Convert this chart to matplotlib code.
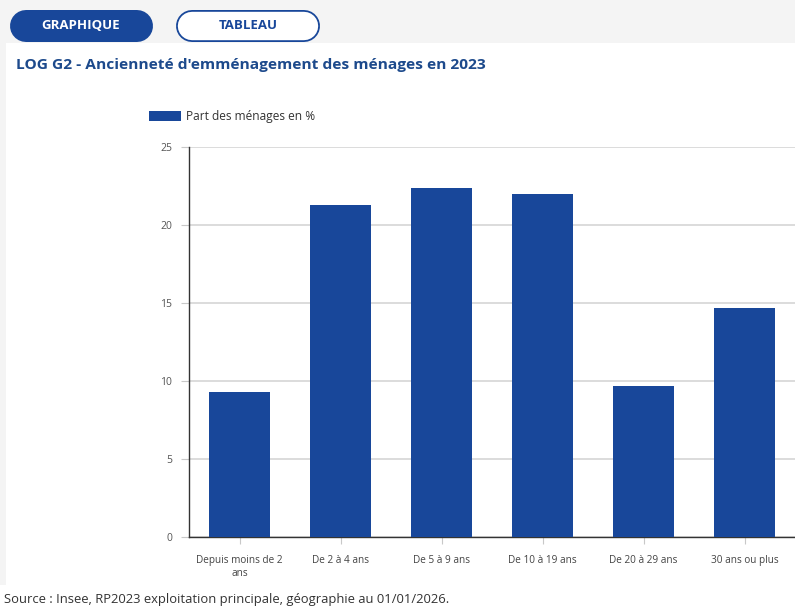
import matplotlib.pyplot as plt
from matplotlib.patches import Rectangle

categories = ['Depuis moins de 2\nans', 'De 2 à 4 ans', 'De 5 à 9 ans',
              'De 10 à 19 ans', 'De 20 à 29 ans', '30 ans ou plus']
values = [9.3, 21.3, 22.4, 22.0, 9.7, 14.7]
yticks = [0, 5, 10, 15, 20, 25]

blue = '#18479a'
dark_blue = '#1d4a8c'
W, H = 795, 606

plt.rcParams['font.family'] = ['Open Sans', 'DejaVu Sans']

fig = plt.figure(figsize=(W / 100, H / 100), dpi=100, facecolor='white')


def fx(x):
    return x / W


def fy(y):
    return 1 - y / H


# page decoration drawn in pixel coordinates on a background axes
bg = fig.add_axes([0, 0, 1, 1], zorder=-1)
bg.set_xlim(0, W)
bg.set_ylim(H, 0)
bg.axis('off')
bg.add_patch(Rectangle((0, 0), W, 43, facecolor='#f4f4f4', edgecolor='none'))
bg.add_patch(Rectangle((0, 43), 6, 542, facecolor='#f4f4f4', edgecolor='none'))

# tabs as thick lines with round caps (px -> pt: *0.72)
bg.plot([25.5, 137], [25.5, 25.5], color=blue, lw=32 * 0.72, solid_capstyle='round')
bg.plot([191.5, 304], [25.5, 25.5], color=blue, lw=32 * 0.72, solid_capstyle='round')
bg.plot([191.5, 304], [25.5, 25.5], color='white', lw=28.4 * 0.72, solid_capstyle='round')

fig.text(fx(81), fy(25.5), 'GRAPHIQUE', color='white', fontsize=9.5,
         fontweight='bold', ha='center', va='center')
fig.text(fx(248), fy(25.5), 'TABLEAU', color=blue, fontsize=9.5,
         fontweight='bold', ha='center', va='center')

# title
fig.text(fx(16), fy(65), "LOG G2 - Ancienneté d'emménagement des ménages en 2023",
         color=dark_blue, fontsize=11.15, fontweight='bold', ha='left', va='center')

ax = fig.add_axes([fx(189), fy(537), (W - 189) / W, (537 - 147) / H])
ax.set_facecolor('white')
x = range(len(categories))
ax.bar(x, values, width=0.6, color=blue, label='Part des ménages en %', zorder=3)

ax.set_xlim(-0.5, 5.5)
ax.set_ylim(0, 25)
ax.set_yticks(yticks)
ax.set_xticks(list(x))
ax.set_xticklabels(categories)
ax.yaxis.grid(True, color='#d6d6d6', linewidth=1.2, zorder=0)
ax.set_axisbelow(True)

for s in ['top', 'right']:
    ax.spines[s].set_visible(False)
ax.spines['left'].set_color('#333333')
ax.spines['bottom'].set_color('#333333')
ax.spines['left'].set_linewidth(1.0)
ax.spines['bottom'].set_linewidth(1.0)

ax.tick_params(axis='y', length=6, color='#c8c8c8', labelsize=7.5,
               labelcolor='#555555', pad=6)
ax.tick_params(axis='x', length=5, color='#c8c8c8', labelsize=7.2,
               labelcolor='#444444', pad=8)
for lab in ax.get_xticklabels() + ax.get_yticklabels():
    lab.set_fontfamily(['Liberation Sans Narrow', 'Open Sans', 'DejaVu Sans'])

ax.legend(loc='center left', bbox_to_anchor=(fx(138), fy(116.5)),
          bbox_transform=fig.transFigure, frameon=False, fontsize=8.6,
          handlelength=2.7, handleheight=0.95, handletextpad=0.4,
          labelcolor='#333333')

# source
fig.text(fx(4), fy(600), 'Source : Insee, RP2023 exploitation principale, géographie au 01/01/2026.',
         color='#333333', fontsize=9.4, ha='left', va='center')

fig.savefig('out.png', dpi=100, facecolor=fig.get_facecolor())
